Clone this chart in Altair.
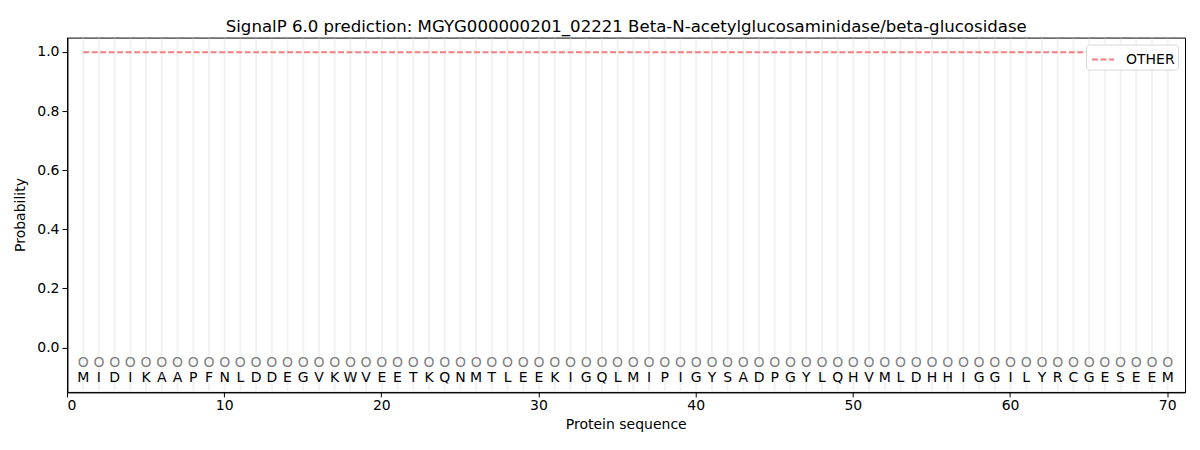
"""SignalP 6.0 prediction chart for MGYG000000201_02221."""

import pandas as pd
import altair as alt

sequence = list("MIDIKAAPFNLDDEGVKWVEETKQNMTLEEKIGQLMIPIGYSADPGYLQHVMLDHHIGGILYRCGESEEM")
positions = list(range(1, len(sequence) + 1))
# per-residue probability of the OTHER class
prob_other = [
    1.0, 1.0, 1.0, 1.0, 1.0, 1.0, 1.0, 1.0, 1.0, 1.0,
    1.0, 1.0, 1.0, 1.0, 1.0, 1.0, 1.0, 1.0, 1.0, 1.0,
    1.0, 1.0, 1.0, 1.0, 1.0, 1.0, 1.0, 1.0, 1.0, 1.0,
    1.0, 1.0, 1.0, 1.0, 1.0, 1.0, 1.0, 1.0, 1.0, 1.0,
    1.0, 1.0, 1.0, 1.0, 1.0, 1.0, 1.0, 1.0, 1.0, 1.0,
    1.0, 1.0, 1.0, 1.0, 1.0, 1.0, 1.0, 1.0, 1.0, 1.0,
    1.0, 1.0, 1.0, 1.0, 1.0, 1.0, 1.0, 1.0, 1.0, 1.0,
]
labels = ["O"] * len(sequence)

df = pd.DataFrame(
    {"pos": positions, "aa": sequence, "prob": prob_other, "label": labels, "series": "OTHER"}
)

FONT = "DejaVu Sans"
FS = 14

x = alt.X(
    "pos:Q",
    scale=alt.Scale(domain=[0, 71.1], nice=False, zero=False),
    axis=alt.Axis(
        title="Protein sequence",
        values=[0, 10, 20, 30, 40, 50, 60, 70],
        format="d",
        grid=False,
        tickSize=5,
        tickColor="black",
        domainColor="black",
        labelColor="black",
        labelFontSize=FS,
        titleFontSize=FS,
        titleFontWeight="normal",
        titlePadding=5,
        labelPadding=2,
    ),
)
y_scale = alt.Scale(domain=[-0.15, 1.05], nice=False, zero=False)
y_axis = alt.Axis(
    title="Probability",
    values=[0, 0.2, 0.4, 0.6, 0.8, 1.0],
    format=".1f",
    grid=False,
    tickSize=5,
    tickColor="black",
    domainColor="black",
    labelColor="black",
    labelFontSize=FS,
    titleFontSize=FS,
    titleFontWeight="normal",
    titlePadding=9,
    labelPadding=3,
)

base = alt.Chart(df)

# light vertical guides, kept just inside the frame so they don't cover it
grid = (
    base.mark_rule(color="#f2f2f2", strokeWidth=2)
    .encode(x=x, y=alt.Y("top:Q", scale=y_scale), y2="bottom:Q")
    .transform_calculate(top="1.046", bottom="-0.146")
)

line = base.mark_line(strokeDash=[6, 2.5], strokeWidth=2).encode(
    x=x,
    y=alt.Y("prob:Q", scale=y_scale, axis=y_axis),
    color=alt.Color(
        "series:N",
        scale=alt.Scale(domain=["OTHER"], range=["#f08080"]),
        legend=alt.Legend(
            title=None,
            orient="top-right",
            offset=7,
            symbolType="stroke",
            symbolStrokeWidth=2,
            symbolDash=[6, 2.5],
            symbolSize=484,
            symbolOffset=2,
            labelFontSize=FS,
            labelColor="black",
            labelOffset=11,
            strokeColor="#d9d9d9",
            fillColor="white",
            cornerRadius=3,
            padding=3,
        ),
    ),
)

marks = base.mark_text(fontSize=FS, color="#808080", font=FONT).encode(
    x=x, y=alt.Y("y:Q", scale=y_scale), text="label:N"
).transform_calculate(y="-0.05")

letters = base.mark_text(fontSize=FS, color="black", font=FONT).encode(
    x=x, y=alt.Y("y:Q", scale=y_scale), text="aa:N"
).transform_calculate(y="-0.1")

chart = (
    alt.layer(grid, line, marks, letters)
    .properties(
        width=1118,
        height=355,
        autosize="none",
        # half-pixel offsets keep the 1px frame crisp
        padding={"left": 59.5, "top": 29.5, "right": 7, "bottom": 50},
        title=alt.Title(
            "SignalP 6.0 prediction: MGYG000000201_02221 Beta-N-acetylglucosaminidase/beta-glucosidase",
            fontSize=16.6,
            fontWeight="normal",
            font=FONT,
            offset=2,
            color="black",
        ),
    )
    .configure(font=FONT)
    .configure_axis(translate=0)
    .configure_view(stroke="black", strokeWidth=1)
)

chart.save("out.html", embed_options={"renderer": "svg", "actions": False})
